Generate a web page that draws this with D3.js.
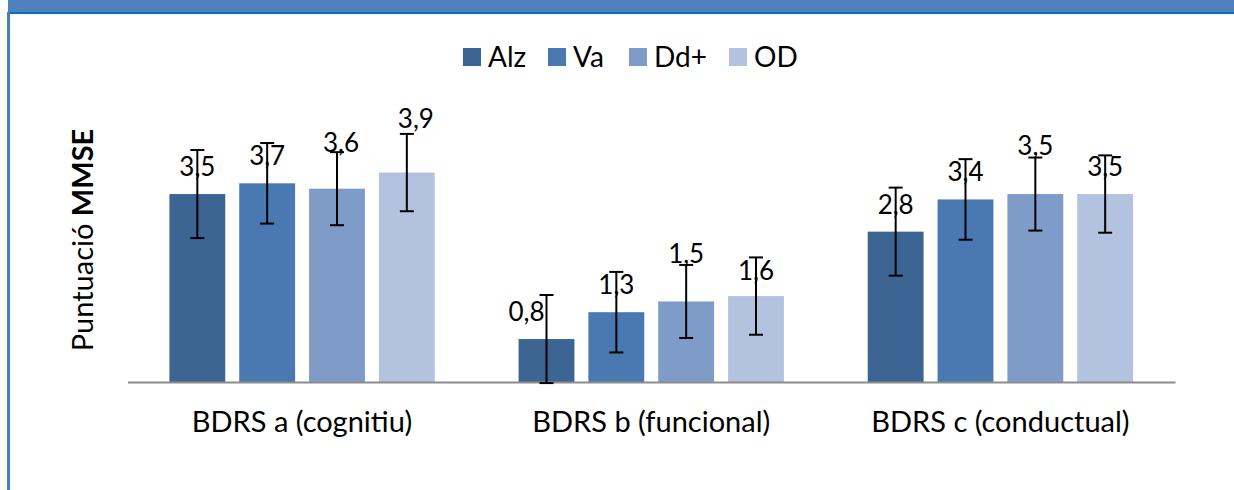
<!DOCTYPE html>
<html>
<head>
<meta charset="utf-8">
<script src="https://cdn.jsdelivr.net/npm/d3@7"></script>
<style>
  html, body { margin: 0; padding: 0; background: #fff; }
  svg { display: block; }
  text { font-family: Lato, "Open Sans", sans-serif; fill: #000; }
</style>
</head>
<body>
<svg id="chart" width="1234" height="490"></svg>
<script>
// ---- data ----
const categories = ["BDRS a (cognitiu)", "BDRS b (funcional)", "BDRS c (conductual)"];
const series = ["Alz", "Va", "Dd+", "OD"];
const valuesAlz = [3.5, 0.8, 2.8];
const valuesVa  = [3.7, 1.3, 3.4];
const valuesDd  = [3.6, 1.5, 3.5];
const valuesOD  = [3.9, 1.6, 3.5];
const errAlz = [0.82, 0.82, 0.82];
const errVa  = [0.75, 0.75, 0.75];
const errDd  = [0.68, 0.68, 0.68];
const errOD  = [0.72, 0.72, 0.72];
const labelsAlz = ["3,5", "0,8", "2,8"];
const labelsVa  = ["3,7", "1,3", "3,4"];
const labelsDd  = ["3,6", "1,5", "3,5"];
const labelsOD  = ["3,9", "1,6", "3,5"];
const yTitle = "Puntuació ";
const yTitleBold = "MMSE";

// ---- style / layout (not data) ----
const colors = ["#3D6594", "#4A79B1", "#7F9BC7", "#B3C3DF"];
// manual label nudges [dx, dy] in px, per series per category
const nudge = [
  [[0, 0], [-20, 0], [0, 0]],
  [[0, 0], [0, 0], [0, 0]],
  [[4, -19], [0, -20], [0, -21]],
  [[9, -27], [0, 2], [0, 0]]
];

const values = [valuesAlz, valuesVa, valuesDd, valuesOD];
const errs = [errAlz, errVa, errDd, errOD];
const labels = [labelsAlz, labelsVa, labelsDd, labelsOD];

const svg = d3.select("#chart");

// frame
svg.append("rect").attr("x", 8).attr("y", 0).attr("width", 1226).attr("height", 12).attr("fill", "#4F81BD");
svg.append("rect").attr("x", 8).attr("y", 12).attr("width", 1226).attr("height", 2).attr("fill", "#0070C0");
svg.append("rect").attr("x", 7).attr("y", 12).attr("width", 3).attr("height", 478).attr("fill", "#4A7EBB");

const baseY = 382;
const y = d3.scaleLinear().domain([0, 5]).range([baseY, baseY - 268.5]);
const x0 = d3.scaleBand().domain(categories).range([127.5, 1175]).padding(0);
const bw = x0.bandwidth();
const x1 = d3.scaleBand().domain(series).range([bw * 0.12, bw * 0.88]).paddingInner(0.2).paddingOuter(0);

const rows = [];
series.forEach((s, si) => categories.forEach((c, ci) => rows.push({
  s, si, c, ci, v: values[si][ci], e: errs[si][ci], lab: labels[si][ci]
})));

// bars
svg.append("g").selectAll("rect").data(rows).join("rect")
  .attr("x", d => x0(d.c) + x1(d.s))
  .attr("y", d => y(d.v))
  .attr("width", x1.bandwidth())
  .attr("height", d => baseY - y(d.v))
  .attr("fill", d => colors[d.si]);

// axis line
const xAxis = d3.axisBottom(x0).tickSize(0).tickPadding(29);
const ax = svg.append("g").attr("transform", `translate(0,${baseY})`).call(xAxis);
ax.select(".domain").attr("stroke", "#8C8C8C").attr("stroke-width", 2);
ax.selectAll(".tick text").attr("font-size", 29).style("font-family", "Lato, sans-serif").attr("fill", "#000");

// error bars
const eg = svg.append("g").attr("stroke", "#000").attr("stroke-width", 2);
rows.forEach(d => {
  const cx = x0(d.c) + x1(d.s) + x1.bandwidth() / 2;
  const yt = y(d.v + d.e), yb = y(d.v - d.e);
  eg.append("line").attr("x1", cx).attr("x2", cx).attr("y1", yt).attr("y2", yb);
  eg.append("line").attr("x1", cx - 7).attr("x2", cx + 7).attr("y1", yt).attr("y2", yt);
  eg.append("line").attr("x1", cx - 7).attr("x2", cx + 7).attr("y1", yb).attr("y2", yb);
});

// data labels
svg.append("g").selectAll("text").data(rows).join("text")
  .attr("x", d => x0(d.c) + x1(d.s) + x1.bandwidth() / 2 + nudge[d.si][d.ci][0])
  .attr("y", d => y(d.v) - 18 + nudge[d.si][d.ci][1])
  .attr("text-anchor", "middle")
  .attr("font-size", 26)
  .text(d => d.lab);

// legend
const legX = [463, 548, 629, 729];
const lg = svg.append("g");
series.forEach((s, i) => {
  lg.append("rect").attr("x", legX[i]).attr("y", 48).attr("width", 18).attr("height", 18).attr("fill", colors[i]);
  lg.append("text").attr("x", legX[i] + 25).attr("y", 67).attr("font-size", 28).text(s);
});

// y title
const yt = svg.append("text")
  .attr("transform", "translate(93,240) rotate(-90)")
  .attr("text-anchor", "middle")
  .attr("font-size", 29);
yt.append("tspan").text(yTitle);
yt.append("tspan").attr("font-weight", "bold").text(yTitleBold);
</script>
</body>
</html>
